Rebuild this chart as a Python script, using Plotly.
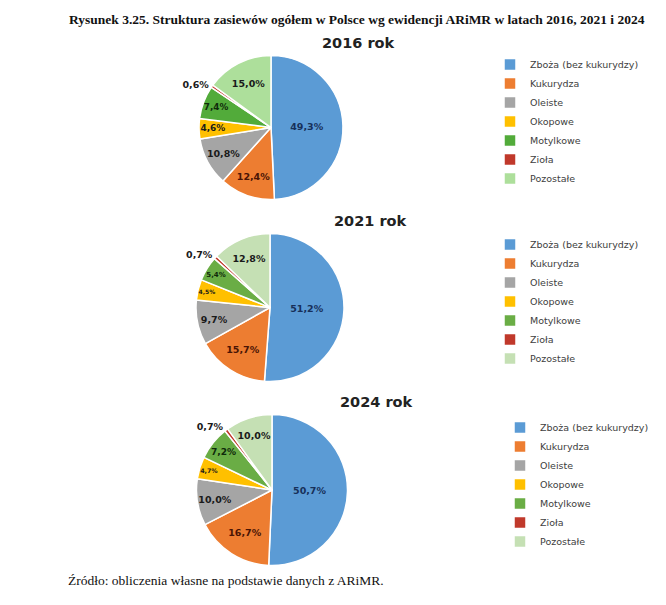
import plotly.graph_objects as go

categories = ['Zboża (bez kukurydzy)', 'Kukurydza', 'Oleiste', 'Okopowe',
              'Motylkowe', 'Zioła', 'Pozostałe']
years = ['2016 rok', '2021 rok', '2024 rok']
share_2016 = [49.3, 12.4, 10.8, 4.6, 7.4, 0.6, 15.0]
share_2021 = [51.2, 15.7, 9.7, 4.5, 5.4, 0.7, 12.8]
share_2024 = [50.7, 16.7, 10.0, 4.7, 7.2, 0.7, 10.0]

# 2016 chart in the source has slightly brighter greens
palettes = [
    ['#5b9bd5', '#ed7d31', '#a5a5a5', '#ffc000', '#52ab3a', '#c0392b', '#addf9b'],
    ['#5b9bd5', '#ed7d31', '#a5a5a5', '#ffc000', '#6aad45', '#c0392b', '#c5e0b4'],
    ['#5b9bd5', '#ed7d31', '#a5a5a5', '#ffc000', '#6aad45', '#c0392b', '#c5e0b4'],
]
text_colors = ['#17305a', '#4a1505', '#1a1a1a', '#1a1a1a', '#0f2a0a', '#1a1a1a', '#1a1a1a']

def pct(v):
    return [('%.1f%%' % x).replace('.', ',') for x in v]

fig = go.Figure()

# pie boxes in paper coords (x, y)
domains = [
    ([0.2868, 0.5030], [0.6835, 0.9214]),
    ([0.2823, 0.5045], [0.3826, 0.6273]),
    ([0.2830, 0.5098], [0.0785, 0.3281]),
]
legends = ['legend', 'legend2', 'legend3']

for i, vals in enumerate([share_2016, share_2021, share_2024]):
    # pie legend entries are merged by label, so make each year's labels unique
    labels = [c + ' ' * i for c in categories]
    fig.add_trace(go.Pie(
        labels=labels,
        values=vals,
        text=pct(vals),
        texttemplate='<b>%{text}</b>',
        textinfo='text',
        textposition=['inside'] * 5 + ['outside', 'inside'],
        insidetextorientation='horizontal',
        textfont=dict(family='DejaVu Sans', size=9.5, color=text_colors),
        outsidetextfont=dict(family='DejaVu Sans', size=9.5, color='#1a1a1a'),
        marker=dict(colors=palettes[i], line=dict(color='white', width=1.5)),
        sort=False,
        direction='clockwise',
        rotation=0,
        domain=dict(x=domains[i][0], y=domains[i][1]),
        legend=legends[i],
        hoverinfo='label+percent',
    ))

legend_style = dict(
    xanchor='left', yanchor='top',
    font=dict(family='DejaVu Sans', size=9.5, color='#404040'),
    bgcolor='rgba(0,0,0,0)', itemclick=False, tracegroupgap=0,
)

annotations = [
    dict(text='<b>Rysunek 3.25. Struktura zasiewów ogółem w Polsce wg ewidencji ARiMR w latach 2016, 2021 i 2024</b>',
         x=349 / 666, y=1 - 11 / 605, font=dict(family='Liberation Serif', size=13.5, color='#111')),
    dict(text='Źródło: obliczenia własne na podstawie danych z ARiMR.',
         x=58 / 666, y=1 - 572 / 605, xanchor='left',
         font=dict(family='Liberation Serif', size=13.5, color='#111')),
]
for name, xpx, ypx in zip(years, [351, 362, 368], [35, 213, 394]):
    annotations.append(dict(text='<b>' + name + '</b>', x=xpx / 666, y=1 - ypx / 605,
                            font=dict(family='DejaVu Sans', size=14.5, color='#222')))
for a in annotations:
    a.update(xref='paper', yref='paper', showarrow=False, yanchor='middle')
    a.setdefault('xanchor', 'center')

fig.update_layout(
    width=666,
    height=605,
    autosize=False,
    margin=dict(l=0, r=0, t=0, b=0),
    paper_bgcolor='white',
    plot_bgcolor='white',
    showlegend=True,
    legend=dict(legend_style, x=482 / 666, y=1 - 42 / 605),
    legend2=dict(legend_style, x=482 / 666, y=1 - 222 / 605),
    legend3=dict(legend_style, x=492 / 666, y=1 - 405 / 605),
    annotations=annotations,
)

fig.write_html('out.html')
